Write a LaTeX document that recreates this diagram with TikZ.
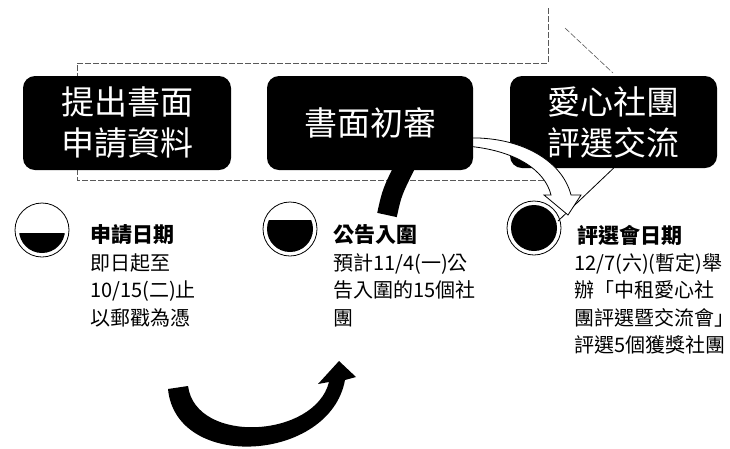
\documentclass[tikz,border=0pt]{standalone}
\usepackage{fontspec}
\usepackage{tikz}
\usetikzlibrary{positioning}
\newfontfamily\cjk{Noto Sans CJK TC}
\tikzset{
	stagebox/.style={fill=black, rounded corners=12pt, text=white, align=center, inner sep=0pt, font=\cjk\fontsize{33}{41}\selectfont},
	headtext/.style={anchor=west, inner sep=0pt, font=\cjk\bfseries\fontsize{21}{27}\selectfont},
	bodytext/.style={align=left, inner sep=0pt, font=\cjk\fontsize{20}{27.5}\selectfont},
	guide/.style={black!65, dashed, dash pattern=on 6pt off 2pt, line width=0.6pt},
}

\begin{document}
\begin{tikzpicture}[x=1pt,y=-1pt]
						\useasboundingbox (0,0) rectangle (730,448);
						
						\coordinate (M1) at (42,230);
						\coordinate (M2) at (290,229);
						\coordinate (M3) at (534,228);
						\coordinate (M3tail) at (558,221);
						\coordinate (T1) at (408,160);
						\coordinate (T2) at (387,215);
						
						\draw[guide] (548,8) -- (548,63) -- (77,63) -- (77,180) -- (548,180);
						\draw[guide] (565,28) -- (613,73);
						
						% markers
						\draw[line width=0.8pt] (M1) circle [radius=27pt];
						\begin{scope}
							\clip (M1) circle [radius=23pt];
							\fill (10,233) rectangle (75,260);
						\end{scope}
						\draw[line width=0.8pt] (M2) circle [radius=27pt];
						\begin{scope}
							\clip (M2) circle [radius=23pt];
							\fill (255,220) rectangle (325,260);
						\end{scope}
						\draw[line width=0.8pt] (M3) circle [radius=27pt];
						\fill (M3) circle [radius=23pt];
						
						\draw[line width=20pt] (T1) .. controls (392,192) .. (T2);
						% bottom arrow
						\fill (168,389) .. controls (176,472) and (330,462) .. (345,380) -- (356,377) -- (339,361) -- (318,384) -- (329,382) .. controls (315,438) and (196,445) .. (188,386) -- cycle;
						
						\node (apply) [stagebox, minimum width=208pt, minimum height=94pt] at (127,123) {提出書面\\申請資料};
						\node (judge) [stagebox, minimum width=207pt, minimum height=92pt] at (613.5,122) {愛心社團\\評選交流};
						\draw[line width=0.8pt] (judge.south) -- (M3tail);
						
						\draw[fill=white, line width=0.8pt] (466,138) .. controls (520,136) and (562,160) .. (571,195) -- (581,195) -- (568,215) -- (544,195) -- (551,195) .. controls (545,170) and (515,150) .. (466,146) -- cycle;
						
						\node (review) [stagebox, minimum width=206pt, minimum height=94pt] at (370,123) {書面初審};
						
						\node (applyhead) [headtext] at (90,235) {申請日期};
						\node (applybody) [bodytext, below=8pt of applyhead.south west, anchor=north west] {即日起至\\10/15(二)止\\以郵戳為憑};
						
						\node (noticehead) [headtext] at (333,235) {公告入圍};
						\node (noticebody) [bodytext, below=8pt of noticehead.south west, anchor=north west] {預計11/4(一)公\\告入圍的15個社\\團};
						
						\node (judgehead) [headtext] at (577,235) {評選會日期};
						\node (judgebody) [bodytext, below=8pt of judgehead.south west, anchor=north west, xshift=-3pt] {12/7(六)(暫定)舉\\辦「中租愛心社\\團評選暨交流會\makebox[0.5em][l]{」}\\評選5個獲獎社團};
					\end{tikzpicture}
\end{document}
